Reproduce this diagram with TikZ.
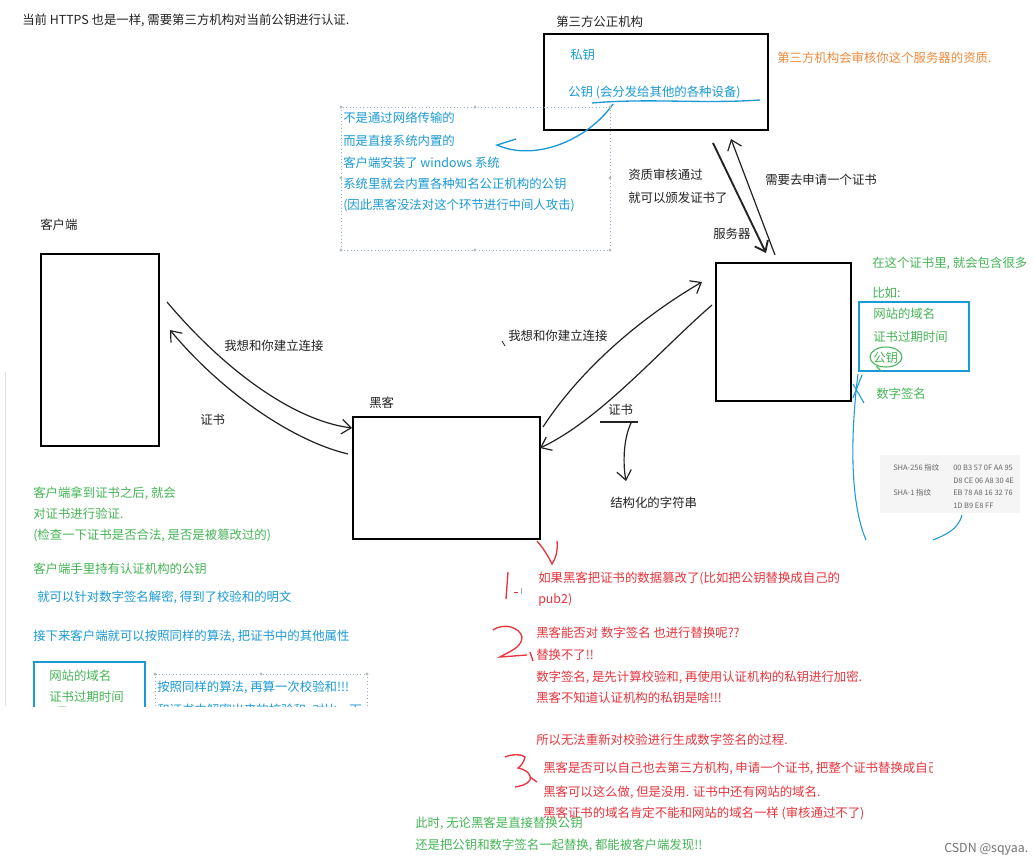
\documentclass[tikz,border=0pt]{standalone}
\usepackage{fontspec}
\setmainfont{Noto Sans CJK SC}
\usetikzlibrary{arrows.meta,calc}
\definecolor{tblue}{HTML}{1A9AD6}
\definecolor{tgreen}{HTML}{45B556}
\definecolor{tred}{HTML}{E8343C}
\definecolor{torange}{HTML}{F08A3C}
\definecolor{tdot}{HTML}{8DB3CF}
\definecolor{tink}{HTML}{222222}
\begin{document}
\begin{tikzpicture}[x=0.75pt,y=-0.75pt,
  txt/.style={anchor=west,inner sep=0pt,font=\fontsize{9.3pt}{11pt}\selectfont,text=tink},
  small/.style={anchor=west,inner sep=0pt,font=\fontsize{5.6pt}{6pt}\selectfont,text=black!60},
  box/.style={draw=black,line width=1.5pt,anchor=north west,inner sep=0pt},
  pen/.style={line width=0.9pt,draw=tink},
  barb/.style={-{Straight Barb[length=7pt,width=11pt]}},
  bluepen/.style={line width=1pt,draw=tblue},
  redpen/.style={line width=1pt,draw=tred},
  dotbox/.style={draw=tdot,dotted,line width=0.6pt},
  handle/.style={fill=gray!55},
]
\useasboundingbox (0,0) rectangle (1035,867);
\fill[white] (0,0) rectangle (1035,867);
\clip (0,0) rectangle (1035,867);

% faint left edge line
\draw[gray!25,line width=0.6pt] (5,372) -- (5,706);

% ---------- top ----------
\node[txt] (title) at (22,20) {当前 HTTPS 也是一样, 需要第三方机构对当前公钥进行认证.};
\node[txt] (tplabel) at (556,22) {第三方公正机构};
\node[box,minimum width=168pt,minimum height=72pt] (tp) at (543,33) {};
\node[txt,text=tblue] (priv) at (570,55) {私钥};
\node[txt,text=tblue] (pub) at (568,92) {公钥 (会分发给其他的各种设备)};
\node[txt,text=torange] (review) at (777,58) {第三方机构会审核你这个服务器的资质.};

% underline and blue curve to the dotted box
\coordinate (ul1) at (592,103);
\coordinate (ul2) at (760,100);
\draw[bluepen] (ul1) .. controls (650,98) and (700,104) .. (ul2);
\coordinate (bc1) at (613,104);
\coordinate (bc2) at (497,145);
\coordinate (bc3) at (516,139);
\draw[bluepen] (bc1) .. controls (588,140) and (535,162) .. (bc2) -- (bc3);

% dotted text box
\draw[dotbox] (341,107) rectangle (610,250);
\foreach \p in {(341,107),(475,107),(610,107),(341,178),(610,178),(341,250),(475,250),(610,250)}
  \fill[handle] \p circle (1.6);
\node[txt,text=tblue] (bl1) at (343,118) {不是通过网络传输的};
\node[txt,text=tblue] (bl2) at (343,141) {而是直接系统内置的};
\node[txt,text=tblue] (bl3) at (343,163) {客户端安装了 windows 系统};
\node[txt,text=tblue] (bl4) at (343,184) {系统里就会内置各种知名公正机构的公钥};
\node[txt,text=tblue] (bl5) at (343,205) {(因此黑客没法对这个环节进行中间人攻击)};

% ---------- server & CA arrows ----------
\node[txt] (srvlabel) at (713,234) {服务器};
\node[box,minimum width=101.25pt,minimum height=103.5pt] (server) at (715,262) {};
\coordinate (ca1) at (713,143);
\coordinate (ca2) at (766,253);
\draw[pen,line width=1.4pt,barb] (ca1) -- (ca2);
\coordinate (cb1) at (775,255);
\coordinate (cb2) at (731,139);
\draw[pen,barb] (cb1) -- (cb2);
\node[txt] (pass1) at (628,175) {资质审核通过};
\node[txt] (pass2) at (628,198) {就可以颁发证书了};
\node[txt] (apply) at (765,180) {需要去申请一个证书};

% ---------- client ----------
\node[txt] (cltlabel) at (40,225) {客户端};
\node[box,minimum width=88.5pt,minimum height=144pt] (client) at (40,253) {};

% ---------- hacker ----------
\node[txt] (hklabel) at (369,403) {黑客};
\node[box,minimum width=140.25pt,minimum height=91.5pt] (hacker) at (352,416) {};

% client <-> hacker
\coordinate (c1) at (167,302);
\coordinate (h1) at (352,428);
\draw[pen,barb] (c1) .. controls (220,365) and (290,420) .. (h1);
\coordinate (h2) at (348,454);
\coordinate (c2) at (170,330);
\draw[pen,barb] (h2) .. controls (290,440) and (220,390) .. (c2);
\node[txt] (conn1) at (224,346) {我想和你建立连接};
\node[txt] (cert1) at (200,420) {证书};

% hacker <-> server
\coordinate (h3) at (543,427);
\coordinate (s1) at (702,282);
\draw[pen,barb] (h3) .. controls (580,370) and (640,318) .. (s1);
\coordinate (s2) at (712,305);
\coordinate (h4) at (540,448);
\draw[pen,barb] (s2) .. controls (660,350) and (600,420) .. (h4);
\node[txt] (conn2) at (508,336) {我想和你建立连接};
\coordinate (tk1) at (502,341);
\coordinate (tk2) at (505,346);
\draw[pen,line width=0.6pt] (tk1) -- (tk2);
\node[txt] (cert2) at (608,410) {证书};
\coordinate (cl1) at (600,422);
\coordinate (cl2) at (638,422);
\draw[pen] (cl1) -- (cl2);
\coordinate (cd1) at (631,423);
\coordinate (cd2) at (626,481);
\draw[pen,barb] (cd1) .. controls (623,440) and (623,465) .. (cd2);
\node[txt] (struct) at (610,503) {结构化的字符串};

% ---------- right side certificate ----------
\node[txt,text=tgreen] (contain) at (872,263) {在这个证书里, 就会包含很多};
\node[txt,text=tgreen] (eg) at (872,293) {比如:};
\draw[draw=tblue,line width=1.2pt] (859,302) rectangle (969,371);
\node[txt,text=tgreen] (dom) at (873,314) {网站的域名};
\node[txt,text=tgreen] (exp) at (873,337) {证书过期时间};
\node[txt,text=tgreen] (pk) at (873,358) {公钥};
\draw[draw=tgreen,line width=0.8pt] (886,357) ellipse [x radius=16, y radius=10];
\draw[draw=tgreen,line width=0.8pt] (876,366) -- (881,371);
\node[txt,text=tgreen] (sig) at (876,394) {数字签名};
\draw[bluepen,line width=0.8pt] (853,398) -- (862,375);
\draw[bluepen,line width=0.8pt] (853,384) -- (864,403);
\draw[bluepen,line width=0.8pt] (858,374) .. controls (851,430) and (849,500) .. (866,540);

% SHA image
\fill[black!4] (880,455) rectangle (1020,513);
\node[small] (sha256) at (893,468) {SHA-256 指纹};
\node[small] (h256a) at (953,468) {00 B3 57 0F AA 95};
\node[small] (h256b) at (953,481) {D8 CE 06 A8 30 4E};
\node[small] (sha1) at (893,493) {SHA-1 指纹};
\node[small] (h1a) at (953,493) {EB 78 A8 16 32 76};
\node[small] (h1b) at (953,506) {1D B9 E8 FF};
\draw[bluepen,line width=0.8pt] (962,515) .. controls (958,530) and (945,535) .. (933,540);

% ---------- bottom left ----------
\node[txt,text=tgreen] (g1) at (33,493) {客户端拿到证书之后, 就会};
\node[txt,text=tgreen] (g2) at (33,514) {对证书进行验证.};
\node[txt,text=tgreen] (g3) at (33,535) {(检查一下证书是否合法, 是否是被篡改过的)};
\node[txt,text=tgreen] (g4) at (33,569) {客户端手里持有认证机构的公钥};
\node[txt,text=tblue] (b1) at (37,597) {就可以针对数字签名解密, 得到了校验和的明文};
\node[txt,text=tblue] (b2) at (33,636) {接下来客户端就可以按照同样的算法, 把证书中的其他属性};
\begin{scope}
  \clip (0,640) rectangle (415,706);
  \draw[draw=tblue,line width=1.2pt] (34,662) rectangle (145,740);
  \node[txt,text=tgreen] (dom2) at (49,676) {网站的域名};
  \node[txt,text=tgreen] (exp2) at (49,697) {证书过期时间};
  \node[txt,text=tgreen] (pk2) at (49,718) {公钥};
  \draw[draw=tgreen,line width=0.8pt] (62,717) ellipse [x radius=16, y radius=10];
  \draw[dotbox] (155,674) rectangle (367,740);
  \foreach \p in {(155,674),(261,674),(367,674)} \fill[handle] \p circle (1.6);
  \node[txt,text=tblue] (alg1) at (157,687) {按照同样的算法, 再算一次校验和!!!};
  \node[txt,text=tblue] (alg2) at (157,710) {和证书中解密出来的校验和, 对比一下};
\end{scope}

% ---------- red notes ----------
\draw[redpen] (537,541) .. controls (545,550) and (550,560) .. (552,564) .. controls (556,558) and (558,550) .. (557,541);
\draw[redpen] (508,572) -- (506,599);
\draw[redpen,line width=0.6pt] (514,592) -- (518,592);
\node[anchor=west,inner sep=0pt,font=\fontsize{6pt}{7pt}\selectfont,text=gray] (cursor) at (520,592) {I};
\node[txt,text=tred] (r1) at (538,578) {如果黑客把证书的数据篡改了(比如把公钥替换成自己的};
\node[txt,text=tred] (r2) at (538,600) {pub2)};
\draw[redpen] (493,630) .. controls (505,622) and (520,628) .. (522,637) .. controls (522,648) and (508,652) .. (500,657) -- (527,655);
\draw[redpen] (530,652) -- (533,661);
\node[txt,text=tred] (r3) at (536,633) {黑客能否对 数字签名 也进行替换呢??};
\node[txt,text=tred] (r4) at (536,655) {替换不了!!};
\node[txt,text=tred] (r5) at (536,677) {数字签名, 是先计算校验和, 再使用认证机构的私钥进行加密.};
\node[txt,text=tred] (r6) at (536,698) {黑客不知道认证机构的私钥是啥!!!};
\node[txt,text=tred] (r7) at (536,740) {所以无法重新对校验进行生成数字签名的过程.};
\draw[redpen] (505,757) .. controls (512,754) and (522,754) .. (525,757) .. controls (524,762) and (521,766) .. (518,768) .. controls (528,770) and (532,776) .. (530,780) .. controls (527,785) and (520,786) .. (515,787);
\draw[redpen] (530,777) -- (537,782);
\begin{scope}
  \clip (400,750) rectangle (932,780);
  \node[txt,text=tred] (r8) at (543,768) {黑客是否可以自己也去第三方机构, 申请一个证书, 把整个证书替换成自己的};
\end{scope}
\node[txt,text=tred] (r9) at (543,792) {黑客可以这么做, 但是没用. 证书中还有网站的域名.};
\node[txt,text=tred] (r10) at (543,813) {黑客证书的域名肯定不能和网站的域名一样 (审核通过不了)};
\node[txt,text=tgreen] (f1) at (415,823) {此时, 无论黑客是直接替换公钥};
\node[txt,text=tgreen] (f2) at (415,845) {还是把公钥和数字签名一起替换, 都能被客户端发现!!};

\node[txt,text=black!55] (csdn) at (944,849) {CSDN @sqyaa.};
\end{tikzpicture}
\end{document}
